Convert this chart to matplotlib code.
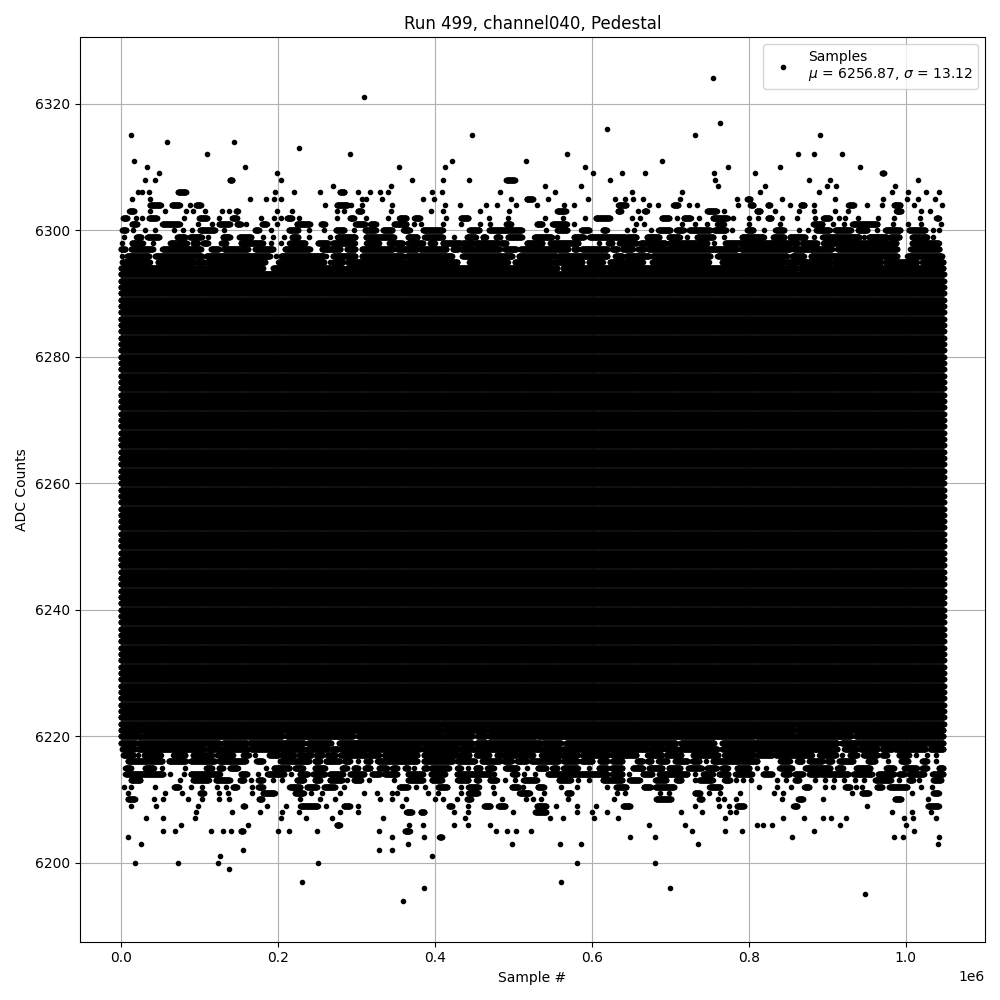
import numpy as np
import matplotlib
matplotlib.use("Agg")
import matplotlib.pyplot as plt

# ---------------- data ----------------
title = "Run 499, channel040, Pedestal"
x_label = "Sample #"
y_label = "ADC Counts"
n_samples = 1048576
mu, sigma = 6256.87, 13.12

# ADC levels that are filled across every sample column
core_levels = list(range(6222, 6294))

# sparse / partially filled levels above the core:
# runs of sample index (in thousands) where dots appear
upper_tail = {
    6324: [(754, 754)],
    6321: [(310, 310)],
    6317: [(763, 763)],
    6316: [(620, 620)],
    6315: [(13, 13), (447, 447), (731, 731), (891, 891)],
    6314: [(59, 59), (144, 144)],
    6313: [(227, 227)],
    6312: [(110, 110), (292, 292), (568, 568), (863, 863), (883, 883), (919, 919)],
    6311: [(17, 17), (422, 422), (516, 516), (690, 690)],
    6310: [(33, 33), (158, 158), (354, 354), (413, 413), (592, 592), (774, 774), (840, 840), (942, 942)],
    6309: [(49, 49), (199, 199), (602, 602), (639, 639), (668, 668), (756, 756), (808, 808), (970, 972)],
    6308: [(31, 31), (44, 44), (139, 142), (204, 204), (371, 371), (411, 411), (444, 444), (491, 502),
           (623, 623), (757, 757), (877, 877), (904, 904), (1016, 1016)],
    6307: [(270, 270), (344, 344), (541, 541), (586, 586), (761, 761), (821, 821), (900, 900), (911, 911),
           (986, 986)],
    6306: [(22, 22), (27, 27), (36, 36), (73, 83), (196, 196), (221, 221), (254, 254), (279, 285), (302, 302),
           (318, 318), (330, 330), (341, 341), (397, 397), (409, 409), (483, 483), (553, 553), (651, 651),
           (715, 715), (814, 814), (890, 890), (983, 983), (1003, 1003), (1026, 1026), (1042, 1042)],
    6305: [(14, 14), (37, 37), (165, 165), (185, 185), (195, 195), (204, 204), (307, 307), (312, 312),
           (333, 333), (385, 385), (399, 399), (497, 497), (517, 525), (544, 544), (595, 595), (630, 630),
           (642, 642), (653, 653), (665, 665), (713, 713), (785, 785), (798, 802), (843, 843), (910, 910),
           (971, 971), (1002, 1002), (1016, 1016), (1037, 1037)],
    6304: [(37, 51), (65, 75), (88, 88), (96, 102), (260, 260), (275, 289), (294, 294), (307, 307), (346, 346),
           (413, 413), (432, 432), (465, 465), (479, 479), (504, 504), (530, 530), (565, 565), (577, 577),
           (634, 644), (673, 673), (685, 685), (704, 710), (724, 724), (734, 734), (787, 787), (802, 806),
           (824, 827), (853, 853), (866, 871), (883, 883), (927, 934), (951, 951), (970, 970), (985, 993),
           (1011, 1011), (1046, 1046)],
    6303: [(11, 17), (37, 37), (56, 56), (83, 83), (92, 92), (107, 107), (129, 129), (138, 138), (147, 149),
           (199, 199), (218, 218), (276, 276), (284, 284), (302, 307), (344, 344), (395, 395), (410, 410),
           (458, 458), (495, 495), (556, 567), (633, 637), (659, 659), (667, 670), (747, 759), (769, 769),
           (810, 815), (834, 834), (864, 864), (883, 883), (910, 910), (926, 926), (988, 994), (1020, 1020),
           (1031, 1031)],
    6302: [(3, 8), (20, 20), (27, 27), (36, 46), (81, 81), (100, 110), (125, 125), (142, 148), (179, 179),
           (195, 195), (204, 204), (212, 218), (227, 227), (275, 275), (292, 297), (312, 312), (341, 341),
           (355, 364), (374, 381), (414, 414), (433, 443), (469, 469), (493, 493), (541, 541), (564, 564),
           (592, 592), (605, 623), (651, 651), (662, 662), (689, 699), (709, 709), (717, 726), (737, 737),
           (754, 773), (780, 780), (801, 801), (812, 812), (824, 829), (843, 843), (862, 862), (885, 885),
           (895, 903), (915, 915), (923, 923), (939, 939), (965, 965), (985, 985), (1018, 1018), (1039, 1042)],
    6301: [(14, 21), (53, 75), (98, 98), (116, 116), (125, 139), (148, 153), (159, 159), (180, 186), (199, 199),
           (224, 241), (255, 260), (299, 311), (318, 325), (348, 364), (374, 374), (383, 383), (411, 411),
           (433, 433), (458, 458), (470, 470), (491, 497), (530, 537), (550, 568), (577, 577), (657, 657),
           (666, 666), (715, 715), (731, 731), (747, 747), (760, 768), (801, 801), (840, 840), (882, 894),
           (908, 908), (921, 921), (932, 964), (984, 984), (1003, 1003), (1020, 1020), (1045, 1045)],
    6300: [(2, 7), (16, 16), (31, 31), (44, 44), (68, 68), (79, 79), (91, 91), (101, 120), (131, 131),
           (171, 176), (191, 191), (214, 226), (240, 240), (259, 259), (274, 285), (297, 297), (311, 325),
           (334, 346), (360, 368), (385, 410), (444, 457), (469, 511), (542, 542), (556, 569), (587, 597),
           (614, 619), (645, 645), (654, 654), (675, 675), (685, 700), (708, 717), (724, 751), (756, 771),
           (779, 779), (798, 806), (820, 820), (834, 845), (864, 864), (876, 876), (886, 903), (910, 930),
           (939, 951), (964, 964), (974, 993), (1004, 1025), (1035, 1035), (1042, 1042)],
    6299: [(4, 4), (20, 26), (34, 49), (72, 82), (88, 103), (111, 111), (130, 139), (151, 166), (181, 181),
           (194, 194), (208, 208), (218, 226), (240, 240), (266, 266), (276, 299), (312, 348), (366, 378),
           (387, 410), (424, 424), (441, 452), (461, 465), (478, 483), (493, 511), (527, 549), (556, 556),
           (577, 590), (597, 643), (645, 657), (670, 686), (698, 712), (722, 722), (734, 755), (769, 769),
           (791, 819), (831, 845), (852, 872), (883, 883), (894, 941), (947, 947), (953, 976), (980, 992),
           (1008, 1027), (1035, 1035)],
    6298: [(2, 2), (14, 28), (41, 41), (63, 84), (92, 98), (105, 111), (128, 134), (153, 181), (191, 191),
           (204, 204), (215, 235), (251, 264), (270, 298), (313, 329), (342, 359), (366, 385), (394, 400),
           (410, 433), (435, 448), (452, 480), (484, 491), (517, 537), (547, 583), (609, 609), (621, 626),
           (635, 657), (662, 694), (699, 747), (756, 756), (770, 862), (868, 887), (895, 988), (1008, 1042)],
    6297: [(0, 6), (13, 41), (53, 102), (115, 125), (131, 162), (171, 194), (209, 241), (256, 280), (288, 299),
           (307, 347), (352, 378), (381, 415), (423, 430), (433, 483), (489, 504), (509, 570), (577, 582),
           (587, 620), (626, 633), (639, 652), (659, 667), (672, 785), (790, 853), (857, 906), (913, 989),
           (1006, 1043)],
    6296: [(2, 2), (8, 36), (44, 103), (109, 190), (198, 198), (204, 259), (262, 262), (270, 299), (307, 360),
           (364, 422), (435, 499), (507, 555), (557, 620), (630, 639), (644, 673), (677, 751), (760, 849),
           (855, 870), (879, 989), (1002, 1046)],
    6295: [(2, 37), (47, 92), (96, 106), (110, 184), (201, 259), (266, 266), (271, 283), (289, 429), (444, 493),
           (502, 549), (553, 588), (596, 614), (623, 665), (677, 749), (766, 845), (849, 904), (908, 968),
           (974, 1014), (1021, 1048)],
    6294: [(0, 181), (194, 283), (288, 556), (563, 860), (865, 1048)],
}

# sparse / partially filled levels below the core
lower_tail = {
    6221: [(0, 24), (28, 408), (412, 857), (862, 1048)],
    6220: [(0, 206), (211, 296), (302, 448), (454, 465), (469, 529), (531, 807), (809, 930), (936, 1048)],
    6219: [(0, 20), (22, 126), (130, 161), (163, 234), (238, 268), (278, 448), (453, 535), (537, 561),
           (567, 707), (713, 756), (766, 913), (918, 1048)],
    6218: [(2, 18), (22, 106), (111, 162), (166, 232), (237, 264), (269, 277), (280, 381), (385, 429),
           (433, 486), (489, 537), (540, 560), (563, 568), (570, 671), (674, 690), (694, 709), (712, 760),
           (766, 913), (922, 937), (942, 964), (970, 983), (986, 1025), (1031, 1048)],
    6217: [(3, 16), (22, 22), (30, 51), (67, 82), (92, 116), (123, 143), (156, 163), (171, 171), (189, 201),
           (205, 221), (227, 243), (249, 257), (263, 273), (280, 312), (316, 329), (336, 378), (386, 444),
           (453, 469), (479, 505), (508, 525), (536, 582), (588, 621), (626, 657), (671, 689), (695, 714),
           (729, 761), (769, 806), (811, 830), (834, 880), (890, 911), (919, 919), (929, 938), (946, 964),
           (970, 976), (991, 1004), (1013, 1013), (1027, 1027), (1039, 1039)],
    6216: [(9, 53), (61, 83), (89, 120), (125, 159), (173, 181), (203, 240), (247, 254), (261, 279), (285, 292),
           (302, 302), (312, 318), (327, 378), (386, 423), (429, 451), (460, 483), (488, 498), (505, 517),
           (523, 558), (564, 582), (587, 601), (610, 620), (626, 639), (658, 665), (671, 676), (685, 696),
           (706, 722), (728, 737), (746, 746), (754, 811), (840, 852), (862, 868), (877, 894), (900, 906),
           (915, 933), (952, 961), (978, 978), (994, 1003), (1021, 1027), (1039, 1039)],
    6215: [(6, 13), (31, 42), (53, 53), (82, 82), (109, 116), (125, 130), (139, 149), (185, 185), (195, 215),
           (222, 232), (247, 260), (282, 288), (297, 302), (311, 318), (329, 339), (346, 352), (362, 366),
           (374, 374), (386, 391), (395, 418), (429, 433), (442, 442), (452, 458), (467, 475), (490, 505),
           (517, 517), (531, 542), (550, 556), (564, 582), (596, 596), (609, 620), (625, 639), (652, 665),
           (673, 690), (698, 713), (723, 740), (747, 759), (766, 773), (785, 801), (811, 811), (822, 822),
           (839, 855), (872, 904), (913, 920), (937, 955), (975, 985), (998, 1014), (1021, 1027), (1042, 1048)],
    6214: [(6, 54), (63, 63), (81, 81), (89, 126), (153, 161), (175, 175), (187, 208), (217, 217), (228, 238),
           (245, 260), (266, 283), (292, 310), (320, 330), (336, 352), (366, 385), (395, 413), (428, 471),
           (476, 476), (499, 505), (514, 514), (528, 528), (544, 620), (626, 639), (648, 648), (665, 677),
           (686, 722), (732, 732), (742, 754), (762, 774), (783, 804), (818, 830), (844, 852), (859, 869),
           (877, 890), (892, 927), (933, 957), (965, 985), (991, 998), (1004, 1023), (1034, 1048)],
    6213: [(13, 25), (75, 75), (92, 112), (121, 139), (152, 157), (166, 166), (175, 181), (194, 194), (205, 205),
           (224, 233), (247, 254), (266, 282), (288, 288), (297, 306), (316, 316), (348, 348), (366, 385),
           (396, 409), (429, 443), (453, 456), (470, 479), (490, 490), (502, 502), (513, 530), (558, 573),
           (583, 583), (596, 596), (614, 639), (648, 661), (681, 695), (708, 714), (732, 732), (737, 754),
           (769, 776), (784, 784), (793, 793), (803, 803), (836, 836), (848, 848), (859, 864), (885, 885),
           (897, 897), (909, 909), (922, 922), (935, 935), (947, 947), (961, 981), (991, 991), (1004, 1009),
           (1017, 1017), (1035, 1045)],
    6212: [(4, 4), (13, 13), (44, 44), (68, 74), (89, 89), (103, 103), (123, 123), (134, 134), (143, 148),
           (167, 167), (175, 181), (215, 229), (237, 250), (259, 273), (284, 284), (355, 366), (376, 376),
           (388, 388), (404, 416), (433, 433), (443, 456), (474, 474), (498, 507), (513, 513), (531, 539),
           (561, 561), (581, 581), (620, 620), (631, 644), (666, 675), (681, 705), (750, 764), (813, 813),
           (836, 836), (854, 854), (871, 877), (897, 897), (908, 908), (923, 929), (937, 937), (944, 944),
           (963, 970), (979, 1002), (1019, 1019), (1034, 1034)],
    6211: [(9, 9), (56, 56), (78, 78), (101, 106), (125, 125), (137, 137), (167, 167), (181, 196), (222, 233),
           (243, 243), (256, 256), (280, 280), (310, 310), (327, 327), (346, 346), (352, 352), (391, 391),
           (404, 404), (433, 433), (443, 455), (475, 475), (508, 521), (539, 539), (568, 574), (632, 632),
           (643, 643), (687, 687), (698, 698), (731, 738), (750, 750), (764, 764), (789, 789), (832, 832),
           (844, 844), (932, 932), (944, 953), (1008, 1008), (1035, 1042)],
    6210: [(9, 18), (42, 42), (54, 54), (86, 86), (103, 103), (125, 125), (138, 138), (176, 180), (229, 229),
           (254, 254), (273, 273), (330, 330), (345, 345), (363, 363), (400, 400), (411, 411), (428, 428),
           (441, 446), (486, 486), (516, 516), (525, 525), (535, 535), (570, 570), (628, 628), (682, 701),
           (737, 741), (761, 761), (769, 769), (784, 784), (843, 843), (863, 869), (895, 895), (986, 994),
           (1028, 1028)],
    6209: [(13, 13), (45, 45), (98, 98), (156, 158), (186, 186), (210, 210), (229, 251), (261, 261), (284, 292),
           (302, 302), (358, 358), (418, 422), (443, 443), (463, 471), (481, 490), (530, 542), (554, 554),
           (581, 581), (606, 606), (640, 649), (731, 731), (762, 762), (775, 775), (785, 794), (857, 862),
           (951, 951), (1028, 1042)],
    6208: [(96, 96), (142, 142), (177, 177), (205, 205), (227, 227), (280, 280), (302, 302), (364, 371),
           (382, 387), (424, 424), (443, 443), (500, 500), (528, 542), (581, 581), (600, 600), (619, 619),
           (714, 714), (740, 740), (776, 776), (784, 784), (983, 983), (1008, 1008), (1032, 1032)],
    6207: [(32, 32), (54, 54), (95, 95), (204, 204), (236, 236), (269, 269), (334, 334), (439, 439), (547, 547),
           (564, 564), (603, 603), (633, 633), (770, 770), (844, 844), (871, 871), (895, 895), (905, 905),
           (924, 924), (998, 998), (1009, 1009), (1039, 1039)],
    6206: [(77, 77), (162, 162), (275, 279), (367, 367), (385, 385), (424, 424), (442, 442), (471, 471),
           (673, 673), (719, 719), (810, 810), (818, 818), (830, 830), (916, 916), (1000, 1000)],
    6205: [(54, 54), (69, 69), (115, 115), (130, 130), (140, 140), (153, 156), (200, 200), (214, 214), (250, 250),
           (329, 329), (362, 368), (478, 478), (492, 492), (503, 503), (523, 523), (728, 728), (770, 770),
           (791, 791), (883, 883), (1011, 1011)],
    6204: [(9, 9), (346, 346), (386, 386), (406, 409), (649, 649), (680, 680), (855, 855), (985, 985),
           (997, 997), (1042, 1042)],
    6203: [(26, 26), (366, 366), (498, 498), (559, 559), (587, 587), (736, 736), (1041, 1041)],
    6202: [(156, 156), (329, 329), (346, 346)],
    6201: [(126, 126), (397, 397)],
    6200: [(18, 18), (73, 73), (124, 124), (251, 251), (581, 581), (680, 680)],
    6199: [(138, 138)],
    6197: [(231, 231), (561, 561)],
    6196: [(387, 387), (700, 700)],
    6195: [(948, 948)],
    6194: [(360, 360)],
}


# ---------------- build point arrays ----------------
def expand_runs(runs):
    parts = []
    for a, b in runs:
        if a == b:
            parts.append(np.array([a * 1000.0]))
        else:
            n = int((b - a) / 0.3) + 2
            parts.append(np.linspace(a * 1000.0, b * 1000.0, n))
    return np.concatenate(parts)


xs, ys = [], []
core_x = np.linspace(0, n_samples - 1, 4096)
for lvl in core_levels:
    xs.append(core_x)
    ys.append(np.full(core_x.size, lvl))
for table in (upper_tail, lower_tail):
    for lvl, runs in table.items():
        px = expand_runs(runs)
        xs.append(px)
        ys.append(np.full(px.size, lvl))
x_all = np.concatenate(xs)
y_all = np.concatenate(ys)

# ---------------- plot ----------------
fig, ax = plt.subplots(figsize=(10, 10), dpi=100)
ax.plot(x_all, y_all, "k.", label=f"Samples\n$\\mu$ = {mu:.2f}, $\\sigma$ = {sigma:.2f}")
ax.grid(True)
ax.set_title(title)
ax.set_xlabel(x_label)
ax.set_ylabel(y_label)
ax.legend(loc="upper right")
fig.tight_layout()
fig.savefig("out.png", dpi=100)
